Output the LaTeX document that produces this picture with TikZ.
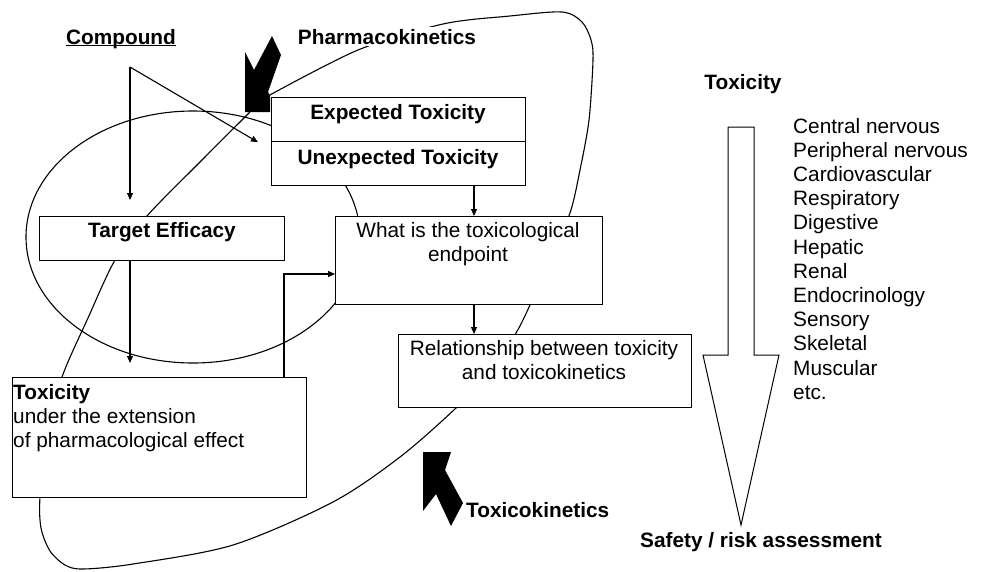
\documentclass[tikz,border=0pt]{standalone}
\usepackage{fontspec}
\setmainfont{Liberation Sans}
\usetikzlibrary{arrows.meta,calc}
\tikzset{
  box/.style={draw, fill=white, line width=1.2pt, inner sep=0pt, anchor=north west},
  txt/.style={inner sep=0pt, font=\fontsize{20.8}{24.2}\selectfont},
  btxt/.style={inner sep=0pt, font=\fontsize{20.8}{24.2}\selectfont\bfseries},
  arr/.style={line width=1.1pt, -{Triangle[length=7pt,width=6pt]}},
  curve/.style={line width=1.1pt},
}
\begin{document}
\begin{tikzpicture}[x=1pt,y=-1pt]
\useasboundingbox (0,0) rectangle (982,571);

% big loop (pharmacokinetics / toxicokinetics)
\draw[curve] plot[smooth, tension=0.5] coordinates {
 (268,96) (358,50) (443,24) (510,16) (562,12) (582,22) (591,40) (593,60)
 (589,120) (580,170) (570,213) (549,262) (530,305) (516,333) (490,372)
 (456,408) (400,457) (333,502) (233,545) (133,564) (83,569) (65,565)
 (50,551) (41,528) (40,497) (47,435) (62,377) (88,318) (115,260)
 (147,216) (200,162) (250,112)};

% ellipse
\draw[curve] (193,237) ellipse [x radius=167pt, y radius=126pt];

% black block arrows
\fill (245,52) -- (254,70) -- (272,36) -- (281,55) -- (268,92) -- (270,96)
      -- (270,112) -- (245,112) -- cycle;
\fill (423,452) -- (451,452) -- (445,470) -- (463,503) -- (451,526)
      -- (436,494) -- (423,511) -- cycle;

% hollow arrow on the right
\draw[line width=1pt, fill=white] (728,127) -- (754,127) -- (754,355) -- (779,355)
      -- (741,525) -- (703,355) -- (728,355) -- cycle;

% boxes
\node[box, minimum width=254pt, minimum height=44pt] (exp)   at (271,97)  {};
\node[box, minimum width=254pt, minimum height=44pt] (unexp) at (271,141) {};
\node[box, minimum width=245pt, minimum height=44pt] (te)    at (39,216)  {};
\node[box, minimum width=267pt, minimum height=88pt] (what)  at (335,216) {};
\node[box, minimum width=293pt, minimum height=73pt] (rel)   at (398,334) {};
\node[box, minimum width=294pt, minimum height=120pt] (tox)  at (12,377)  {};

% connectors
\coordinate (fork) at (130,67);
\coordinate (cmptip) at ([xshift=-13pt]exp.south west);
\draw[arr, shorten >=16pt] (fork) -- (fork |- te.north);
\draw[arr] (fork) -- (cmptip);
\draw[arr, shorten >=14pt] (fork |- te.south) -- (fork |- tox.north);
\coordinate (ax) at (474,0);
\draw[arr] (ax |- unexp.south) -- (ax |- what.north);
\draw[arr] (ax |- what.south) -- (ax |- rel.north);
\coordinate (tw) at (284,274);
\draw[arr] (tw |- tox.north) -- (tw) -- (tw -| what.west);

% texts
\node[btxt, anchor=base] (cmp) at (121,44) {Compound};
\draw[line width=1.1pt] ([yshift=-1.8pt]cmp.base west) -- ([yshift=-1.8pt]cmp.base east);
\node[btxt, anchor=base, fill=white, inner sep=2pt] (pk) at (387,44) {Pharmacokinetics};
\node[btxt, anchor=base] (expT) at (398,119) {Expected Toxicity};
\node[btxt, anchor=base] (unexpT) at (398,164) {Unexpected Toxicity};
\node[btxt, anchor=base] (teT) at (162,237) {Target Efficacy};
\node[txt, anchor=base] (whatT1) at (468,237) {What is the toxicological};
\node[txt, anchor=base] (whatT2) at (468,261) {endpoint};
\node[txt, anchor=base] (relT1) at (544,355) {Relationship between toxicity};
\node[txt, anchor=base] (relT2) at (544,379) {and toxicokinetics};
\node[btxt, anchor=base west] (toxT1) at (13,399) {Toxicity};
\node[txt, anchor=base west] (toxT2) at (13,423) {under the extension};
\node[txt, anchor=base west] (toxT3) at (13,447) {of pharmacological effect};
\node[btxt, anchor=base] (toxR) at (743,89) {Toxicity};
\foreach \t [count=\i] in {Central nervous, Peripheral nervous, Cardiovascular,
  Respiratory, Digestive, Hepatic, Renal, Endocrinology, Sensory, Skeletal,
  Muscular, etc.}
  \node[txt, anchor=base west] (org\i) at (793,{133+24.2*(\i-1)}) {\t};
\node[btxt, anchor=base] (safe) at (761,547) {Safety / risk assessment};
\node[btxt, anchor=base west] (tk) at (466,517) {Toxicokinetics};
\end{tikzpicture}
\end{document}
